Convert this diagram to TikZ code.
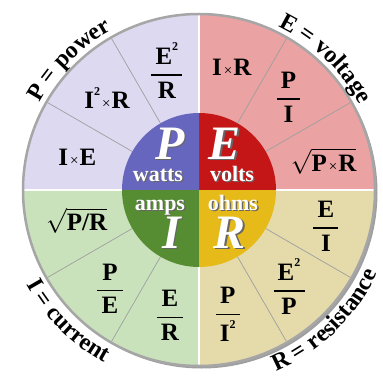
\documentclass[tikz,border=0pt]{standalone}
\usepackage{amsmath}
\usepackage{fontspec}
\setmainfont{Liberation Serif}
\usepackage{tikz}
\usetikzlibrary{decorations.text, calc}
\usepackage{xcolor}
\definecolor{powerbg}{RGB}{221, 217, 240}
\definecolor{voltbg}{RGB}{234, 162, 162}
\definecolor{currbg}{RGB}{201, 226, 188}
\definecolor{resbg}{RGB}{228, 218, 170}
\definecolor{powerin}{RGB}{102, 102, 190}
\definecolor{voltin}{RGB}{196, 22, 22}
\definecolor{currin}{RGB}{86, 140, 50}
\definecolor{resin}{RGB}{230, 186, 24}

\newcommand{\crs}{{\fontsize{15}{15}\selectfont\mdseries\hspace{2pt}×\hspace{1pt}}}
\newcommand{\two}{\raisebox{0.55em}{\fontsize{12}{12}\selectfont 2}}
\newcommand{\frc}[2]{$\genfrac{}{}{1.6pt}{0}{\text{\,#1\,}}{\text{\,#2\,}}$}
\newcommand{\lblfont}{\fontsize{24}{24}\selectfont\bfseries}

\begin{document}
\begin{tikzpicture}[x=1pt, y=1pt,
  rim/.style={draw=gray!70, line width=2.5pt},
  spoke/.style={draw=gray!75, line width=0.7pt},
  split/.style={draw=white, line width=1.2pt},
  formula/.style={font=\fontsize{25}{27}\selectfont\bfseries, inner sep=0pt},
  bigletter/.style={font=\fontsize{48}{48}\selectfont\bfseries\itshape, anchor=base, inner sep=0pt},
  unitname/.style={font=\fontsize{22}{22}\selectfont\bfseries, anchor=base, inner sep=0pt},
  arclabel/.style={decorate, decoration={text along path, text align=center, text={|\lblfont|#1}}},
]
  \useasboundingbox (-199,-188) rectangle (184,190);

  % wheel
  \fill[gray!75] (2.5,-2.5) circle (176);
  \foreach \a/\c in {0/voltbg, 90/powerbg, 180/currbg, 270/resbg}
    \fill[\c] (0,0) -- (\a:176) arc[start angle=\a, delta angle=90, radius=176] -- cycle;
  \foreach \a in {30,60,120,150,210,240,300,330}
    \draw[spoke] (\a:77) -- (\a:175);
  \foreach \a in {0,90,180,270}
    \draw[split] (\a:77) -- (\a:175);
  \draw[rim] (0,0) circle (176);
  \foreach \a/\c in {0/voltin, 90/powerin, 180/currin, 270/resin}
    \fill[\c] (0,0) -- (\a:77) arc[start angle=\a, delta angle=90, radius=77] -- cycle;

  % centre letters
  \foreach \nm/\x/\y/\sty/\txt in {bigP/-29/31/bigletter/P, watts/-41/9/unitname/watts,
      bigE/26/31/bigletter/E, volts/33/9/unitname/volts,
      amps/-39/-20/unitname/amps, bigI/-27/-58/bigletter/I,
      ohms/34/-20/unitname/ohms, bigR/31/-58/bigletter/R} {
    \node[\sty, text=black!60] (\nm-sh) at (\x+1.3,\y-1.3) {\txt};
    \node[\sty, text=white] (\nm) at (\x,\y) {\txt};
  }

  % power
  \node[formula] (pw1) at (105:124) {\frc{E\two}{R}};
  \node[formula] (pw2) at (135:130) {I\two\crs R};
  \node[formula] (pw3) at (165:126) {I\crs E};
  % voltage
  \node[formula] (vt1) at (75:127) {I\crs R};
  \node[formula] (vt2) at (46:129) {\frc{P}{I}};
  \node[formula] (vt3) at (13:128) {$\sqrt{\text{P\crs R}}$};
  % current
  \node[formula] (cu1) at (194:126) {$\sqrt{\text{P/R}}$};
  \node[formula] (cu2) at (228:133) {\frc{P}{E}};
  \node[formula] (cu3) at (257:129) {\frc{E}{R}};
  % resistance
  \node[formula] (rs1) at (283:128) {\frc{P}{I\two}};
  \node[formula] (rs2) at (313:132) {\frc{E\two}{P}};
  \node[formula] (rs3) at (344:132) {\frc{E}{I}};

  % names round the rim
  \path[arclabel={P = power}] (165:182) arc[start angle=165, end angle=105, radius=182];
  \path[arclabel={E = voltage}] (76:182) arc[start angle=76, end angle=16, radius=182];
  \path[arclabel={I = current}] (190:197) arc[start angle=190, end angle=260, radius=197];
  \path[arclabel={R = resistance}] (269:197) arc[start angle=269, end angle=359, radius=197];
\end{tikzpicture}
\end{document}
